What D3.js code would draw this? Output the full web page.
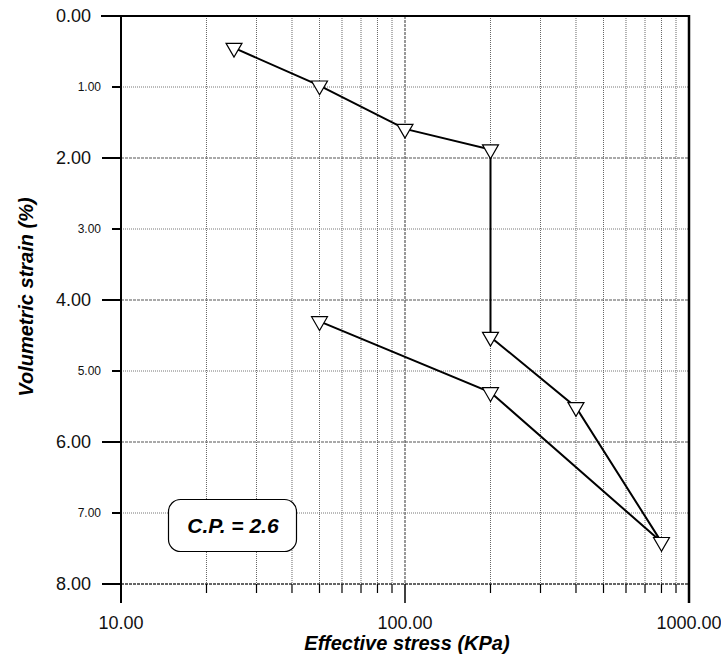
<!DOCTYPE html>
<html><head><meta charset="utf-8">
<script src="https://cdn.jsdelivr.net/npm/d3@7"></script>
<style>body{margin:0;background:#fff}svg{display:block;font-family:"Liberation Sans",Arial,sans-serif}</style>
</head><body>
<svg id="c" width="721" height="660"></svg>
<script>
const stress = [25, 50, 100, 200, 200, 400, 800, 200, 50];
const strain = [0.45, 0.98, 1.59, 1.88, 4.52, 5.51, 7.41, 5.30, 4.30];
const xMajorTicks = [10, 100, 1000];
const xMajorLabels = ["10.00", "100.00", "1000.00"];
const yTicks = [0, 1, 2, 3, 4, 5, 6, 7, 8];
const yLabels = ["0.00", "1.00", "2.00", "3.00", "4.00", "5.00", "6.00", "7.00", "8.00"];
const annotation = "C.P. = 2.6";

const L = 121, R = 689, T = 16, B = 584;
const svg = d3.select("#c");
const x = d3.scaleLog().domain([10, 1000]).range([L, R]);
const y = d3.scaleLinear().domain([0, 8]).range([T, B]);

const minor = [];
[10, 100].forEach(d => { for (let k = 2; k <= 9; k++) minor.push(d * k); });

// vertical grid
svg.append("g").selectAll("line").data(minor).join("line")
  .attr("x1", d => x(d)).attr("x2", d => x(d)).attr("y1", T).attr("y2", B)
  .attr("stroke", "#666").attr("stroke-width", 1).attr("stroke-dasharray", "1,1");
svg.append("line").attr("x1", x(100)).attr("x2", x(100)).attr("y1", T).attr("y2", B)
  .attr("stroke", "#555").attr("stroke-width", 1.2).attr("stroke-dasharray", "3,1");
// horizontal grid
svg.append("g").selectAll("line").data(yTicks.filter(d => d > 0 && d < 8)).join("line")
  .attr("x1", L).attr("x2", R).attr("y1", d => y(d)).attr("y2", d => y(d))
  .attr("stroke", d => d % 2 === 0 ? "#555" : "#777").attr("stroke-width", d => d % 2 === 0 ? 1.2 : 1)
  .attr("stroke-dasharray", d => d % 2 === 0 ? "3,1" : "1,1");
// bottom dashed line
svg.append("line").attr("x1", L).attr("x2", R).attr("y1", y(8)).attr("y2", y(8))
  .attr("stroke", "#333").attr("stroke-width", 1.5).attr("stroke-dasharray", "3,1");

// borders
svg.append("line").attr("x1", L - 20).attr("x2", R + 1).attr("y1", T).attr("y2", T).attr("stroke", "#000").attr("stroke-width", 2);
svg.append("line").attr("x1", R).attr("x2", R).attr("y1", T - 1).attr("y2", B + 19).attr("stroke", "#000").attr("stroke-width", 2.5);
svg.append("line").attr("x1", L).attr("x2", L).attr("y1", T).attr("y2", B + 19).attr("stroke", "#000").attr("stroke-width", 2);

// y ticks
svg.append("g").selectAll("line").data(yTicks.filter(d => d > 0)).join("line")
  .attr("x1", d => d % 2 === 0 ? L - 19 : L - 9).attr("x2", L)
  .attr("y1", d => y(d)).attr("y2", d => y(d)).attr("stroke", "#000").attr("stroke-width", 2);
svg.append("g").selectAll("text").data(yTicks).join("text")
  .attr("x", d => d % 2 === 0 ? L - 30 : L - 20).attr("y", d => y(d))
  .attr("dy", "0.35em").attr("text-anchor", "end")
  .attr("font-size", d => d % 2 === 0 ? 18 : 12).attr("fill", "#111")
  .text((d, i) => yLabels[i]);

// x ticks
svg.append("g").selectAll("line").data(minor).join("line")
  .attr("x1", d => x(d)).attr("x2", d => x(d)).attr("y1", B).attr("y2", B + 9)
  .attr("stroke", "#000").attr("stroke-width", 1.2);
svg.append("line").attr("x1", x(100)).attr("x2", x(100)).attr("y1", B).attr("y2", B + 19).attr("stroke", "#000").attr("stroke-width", 1.5);
svg.append("g").selectAll("text").data(xMajorTicks).join("text")
  .attr("x", d => x(d)).attr("y", 629).attr("text-anchor", "middle")
  .attr("font-size", 18).attr("fill", "#111")
  .text((d, i) => xMajorLabels[i]);

// axis titles
svg.append("text").attr("x", 407).attr("y", 650).attr("text-anchor", "middle")
  .attr("font-size", 20).attr("font-weight", "bold").attr("font-style", "italic")
  .text("Effective stress (KPa)");
svg.append("text").attr("transform", "translate(33,297) rotate(-90)").attr("text-anchor", "middle")
  .attr("font-size", 20).attr("font-weight", "bold").attr("font-style", "italic")
  .text("Volumetric strain (%)");

// data line
const pts = stress.map((s, i) => [s, strain[i]]);
svg.append("path").datum(pts)
  .attr("d", d3.line().x(d => x(d[0])).y(d => y(d[1])))
  .attr("fill", "none").attr("stroke", "#000").attr("stroke-width", 2);
// markers
const tri = d3.symbol(d3.symbolTriangle).size(110);
svg.append("g").selectAll("path").data(pts).join("path")
  .attr("d", tri)
  .attr("transform", d => `translate(${x(d[0])},${y(d[1])}) rotate(180)`)
  .attr("fill", "#fff").attr("stroke", "#000").attr("stroke-width", 1.2);

// annotation box
svg.append("rect").attr("x", 168.5).attr("y", 499.5).attr("width", 128).attr("height", 52)
  .attr("rx", 12).attr("ry", 12).attr("fill", "#fff").attr("stroke", "#000").attr("stroke-width", 1.2);
svg.append("text").attr("x", 233).attr("y", 532.5).attr("text-anchor", "middle")
  .attr("font-size", 21).attr("font-weight", "bold").attr("font-style", "italic")
  .text(annotation);
</script>
</body></html>
